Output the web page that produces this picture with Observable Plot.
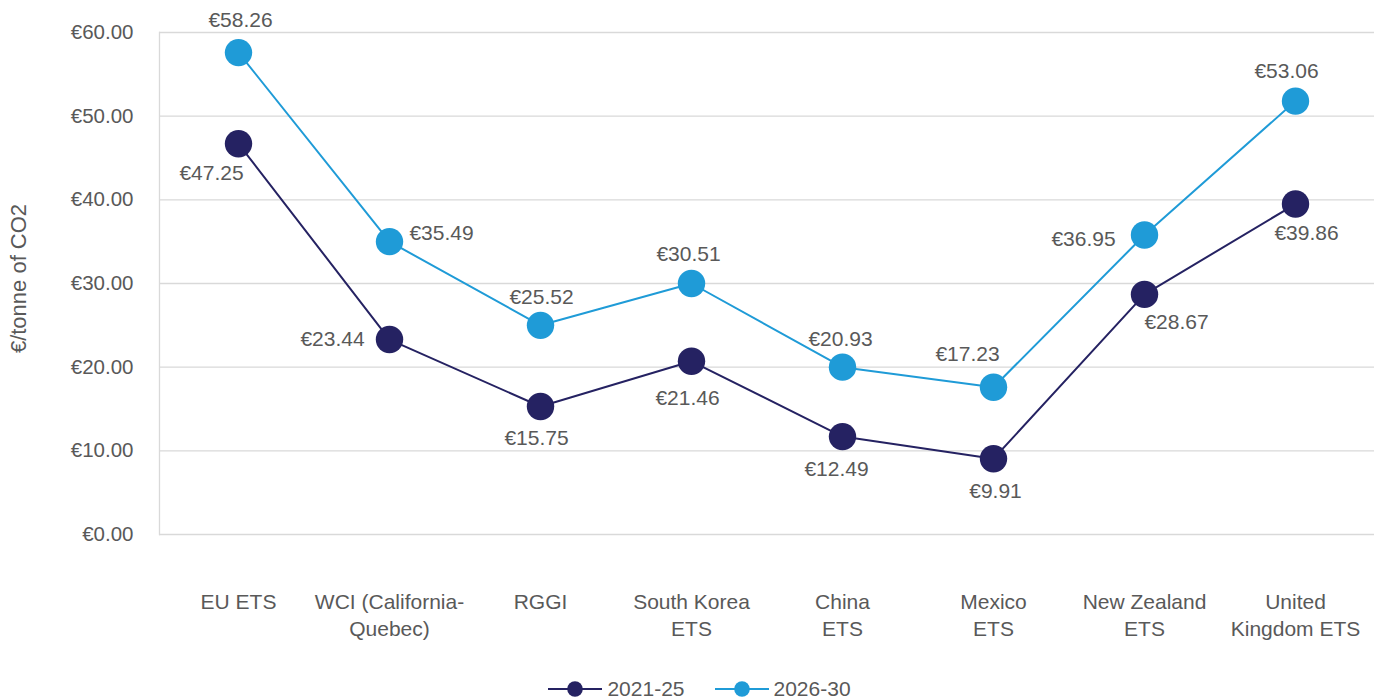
<!DOCTYPE html>
<html>
<head>
<meta charset="utf-8">
<script src="https://cdn.jsdelivr.net/npm/d3@7"></script>
<script src="https://cdn.jsdelivr.net/npm/@observablehq/plot@0.6"></script>
<style>
  html, body { margin: 0; padding: 0; background: #fff; }
  body { width: 1399px; font-family: "Liberation Sans", Arial, sans-serif; color: #595959; }
  #legend { box-sizing: border-box; display: flex; justify-content: center; align-items: center; height: 39px; padding-top: 19px; font-size: 21px; line-height: 20px; }
  #legend .item { display: flex; align-items: center; margin: 0 15px; }
  #legend svg { margin-right: 5px; }
</style>
</head>
<body>
<div id="chart"></div>
<div id="legend"></div>
<script>
const categories = ["EU ETS", "WCI (California-\nQuebec)", "RGGI", "South Korea\nETS", "China\nETS", "Mexico\nETS", "New Zealand\nETS", "United\nKingdom ETS"];
const seriesNames = ["2021-25", "2026-30"];
const values2125 = [46.7, 23.3, 15.3, 20.7, 11.7, 9.05, 28.7, 39.5];
const values2630 = [57.6, 35.0, 25.0, 30.0, 20.0, 17.6, 35.8, 51.8];
const labels2125 = ["€47.25", "€23.44", "€15.75", "€21.46", "€12.49", "€9.91", "€28.67", "€39.86"];
const labels2630 = ["€58.26", "€35.49", "€25.52", "€30.51", "€20.93", "€17.23", "€36.95", "€53.06"];
const yTicks = [0, 10, 20, 30, 40, 50, 60];

// label nudges (layout only)
const nudge2125 = [[-27, 29], [-57, 0], [-4, 32], [-4, 37], [-6, 33], [2, 32], [32, 28], [11, 29]];
const nudge2630 = [[2, -32], [52, -8], [1, -28], [-3, -29], [-2, -28], [-26, -33], [-61, 4], [-9, -30]];

const colors = {"2021-25": "#252262", "2026-30": "#1f9bd7"};
const textColor = "#595959";
const font = "Liberation Sans, Arial, sans-serif";

const rows = [];
categories.forEach((c, i) => {
  rows.push({cat: c, series: "2021-25", value: values2125[i], label: labels2125[i], nudge: nudge2125[i]});
  rows.push({cat: c, series: "2026-30", value: values2630[i], label: labels2630[i], nudge: nudge2630[i]});
});

const labelMarks = rows.map(d => Plot.text([d], {
  x: "cat", y: "value", text: "label",
  dx: d.nudge[0], dy: d.nudge[1],
  fill: textColor, fontSize: 21, fontFamily: font
}));

const chart = Plot.plot({
  width: 1399,
  height: 660,
  marginLeft: 159,
  marginRight: 25,
  marginTop: 32,
  marginBottom: 126,
  style: {fontFamily: font, color: textColor, background: "#fff"},
  x: {type: "point", domain: categories, padding: 0.5},
  y: {domain: [0, 60]},
  color: {domain: seriesNames, range: seriesNames.map(s => colors[s])},
  marks: [
    Plot.gridY(yTicks, {stroke: "#d9d9d9", strokeOpacity: 1, strokeWidth: 1.3}),
    Plot.frame({anchor: "left", stroke: "#d9d9d9", strokeWidth: 1.3}),
    Plot.axisY(yTicks, {
      tickSize: 0, tickPadding: 26, fontSize: 20.5, fill: textColor,
      tickFormat: d => "€" + d.toFixed(2),
      label: null
    }),
    Plot.text(["€/tonne of CO2"], {
      frameAnchor: "left", textAnchor: "middle", rotate: -90, dx: -141, dy: -5, fontSize: 22, fill: textColor, fontFamily: font
    }),
    Plot.axisX({
      tickSize: 0, tickPadding: 55, fontSize: 21, fill: textColor, lineHeight: 1.29,
      lineAnchor: "top", label: null
    }),
    Plot.line(rows, {x: "cat", y: "value", z: "series", stroke: "series", strokeWidth: 2}),
    Plot.dot(rows, {x: "cat", y: "value", fill: "series", r: 13.7}),
    ...labelMarks
  ]
});
document.getElementById("chart").appendChild(chart);

const legend = document.getElementById("legend");
seriesNames.forEach(s => {
  const item = document.createElement("div");
  item.className = "item";
  item.innerHTML = `<svg width="54" height="18"><line x1="0" y1="9" x2="54" y2="9" stroke="${colors[s]}" stroke-width="2"/><circle cx="27" cy="9" r="7.8" fill="${colors[s]}"/></svg><span>${s}</span>`;
  legend.appendChild(item);
});
</script>
</body>
</html>
